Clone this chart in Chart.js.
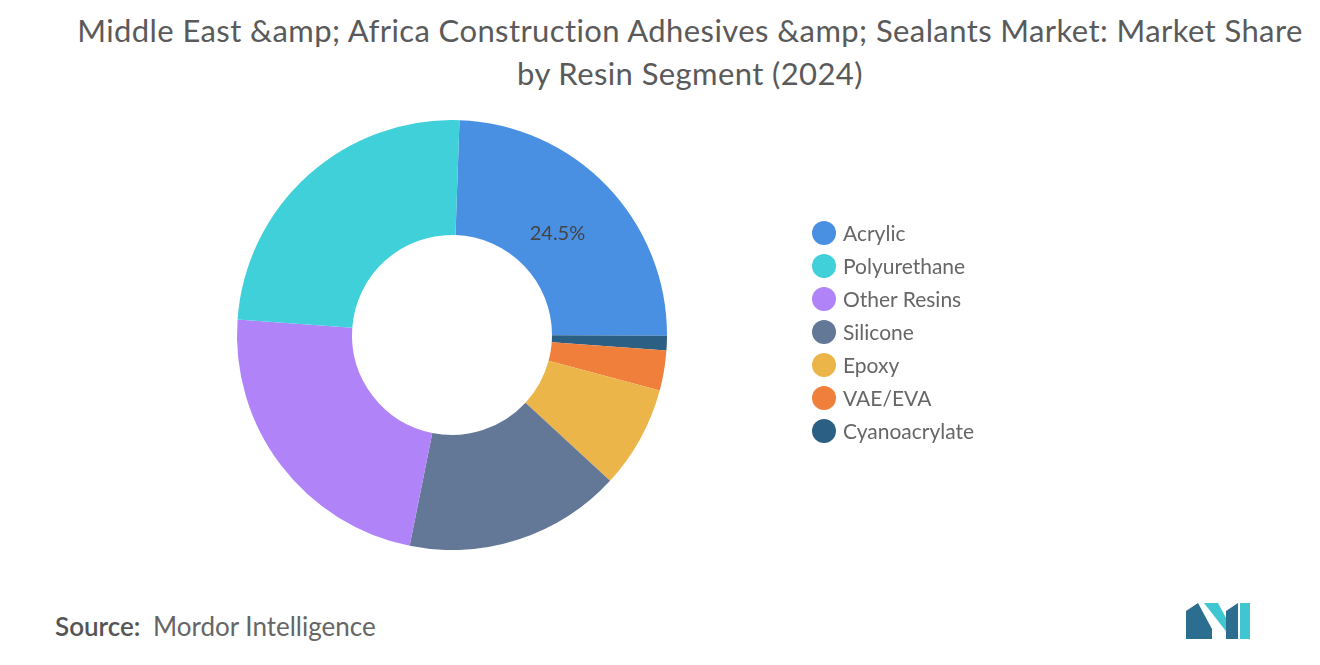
<!DOCTYPE html>
<html>
<head>
<meta charset="utf-8">
<script src="https://cdn.jsdelivr.net/npm/chart.js@4"></script>
<style>
  body { margin: 0; width: 1320px; height: 665px; background: #fff; font-family: Lato, "Open Sans", sans-serif; position: relative; overflow: hidden; }
  #title { position: absolute; top: 9px; left: 40px; width: 1300px; text-align: center; color: #5a5a5a; font-size: 31px; letter-spacing: 0.4px; line-height: 43px; }
  #wrap { position: absolute; left: 0; top: 120px; width: 904px; height: 430px; }
  #legend { position: absolute; left: 812px; top: 216px; list-style: none; margin: 0; padding: 0; }
  #legend li { height: 33px; font-size: 21px; color: #666; display: flex; align-items: center; }
  #legend span { width: 24px; height: 24px; border-radius: 50%; margin-right: 7px; display: inline-block; }
  #source { position: absolute; left: 55px; top: 610px; font-size: 26px; color: #666; }
  #source b { font-weight: 600; color: #555; margin-right: 6px; }
</style>
</head>
<body>
<div id="title">Middle East &amp;amp; Africa Construction Adhesives &amp;amp; Sealants Market: Market Share<br>by Resin Segment (2024)</div>
<div id="wrap"><canvas id="chart"></canvas></div>
<ul id="legend"></ul>
<div id="source"><b>Source:</b> Mordor Intelligence</div>
<svg style="position:absolute;left:1186px;top:603px" width="64" height="36" viewBox="0 0 64 36">
  <path d="M0 36 L0 8 L12 0 L26 26 L26 36 Z" fill="#2c6e8f"/>
  <path d="M18 0 L32 0 L46 26 L46 36 Z" fill="#3fc6d1"/>
  <path d="M40 8 L52 0 L52 36 L40 36 Z" fill="#2c6e8f"/>
  <path d="M54 0 L64 0 L64 36 L54 36 Z" fill="#3fc6d1"/>
</svg>
<script>
const labels = ['Acrylic', 'Cyanoacrylate', 'VAE/EVA', 'Epoxy', 'Silicone', 'Other Resins', 'Polyurethane'];
const shares = [24.5, 1.1, 3.0, 7.7, 16.3, 23.0, 24.4];
const colors = ['#4a90e2', '#2c5f84', '#f07f3c', '#ebb54a', '#637796', '#b084f8', '#3fd0da'];
const legendOrder = ['Acrylic', 'Polyurethane', 'Other Resins', 'Silicone', 'Epoxy', 'VAE/EVA', 'Cyanoacrylate'];
const shownLabels = ['Acrylic'];

// legend in the same order as the picture
const legend = document.getElementById('legend');
legendOrder.forEach(name => {
    const li = document.createElement('li');
    li.innerHTML = `<span style="background:${colors[labels.indexOf(name)]}"></span>${name}`;
    legend.appendChild(li);
});

const valueLabels = {
    id: 'valueLabels',
    afterDatasetsDraw(chart) {
        const ctx = chart.ctx;
        chart.getDatasetMeta(0).data.forEach((arc, i) => {
            if (!shownLabels.includes(labels[i])) return;
            const p = arc.tooltipPosition();
            ctx.save();
            ctx.font = '20px Lato, sans-serif';
            ctx.fillStyle = '#444';
            ctx.textAlign = 'center';
            ctx.textBaseline = 'middle';
            ctx.fillText(shares[i] + '%', p.x - 8, p.y + 8);
            ctx.restore();
        });
    }
};

new Chart(document.getElementById('chart'), {
    type: 'doughnut',
    data: {
        labels: labels,
        datasets: [{
            data: shares,
            backgroundColor: colors,
            borderWidth: 0
        }]
    },
    options: {
        responsive: true,
        maintainAspectRatio: false,
        animation: false,
        rotation: 2,
        cutout: '46.5%',
        plugins: { legend: { display: false }, tooltip: { enabled: false } }
    },
    plugins: [valueLabels]
});
</script>
</body>
</html>
